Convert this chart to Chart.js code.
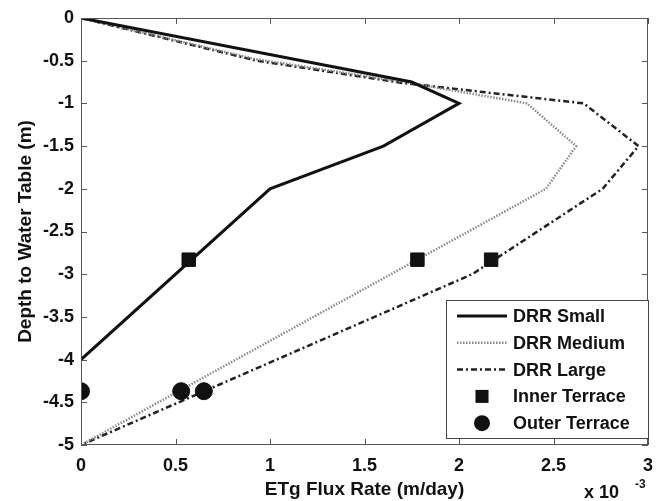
<!DOCTYPE html>
<html>
<head>
<meta charset="utf-8">
<script src="https://cdn.jsdelivr.net/npm/chart.js@4/dist/chart.umd.min.js"></script>
<style>
  html, body { margin: 0; padding: 0; background: #fff; }
  #box { width: 661px; height: 501px; }
</style>
</head>
<body>
<div id="box"><canvas id="grafico"></canvas></div>
<script>
// Dados (x em 10^-3 m/day, y = profundidade em m)
const smallX = [0, 1.75, 2.0, 1.6, 1.0, 0];
const smallY = [0, -0.75, -1.0, -1.5, -2.0, -4.0];
const mediumX = [0, 0.92, 1.74, 2.36, 2.62, 2.46, 0];
const mediumY = [0, -0.48, -0.76, -1.0, -1.5, -2.0, -5.0];
const largeX = [0, 0.93, 1.7, 2.66, 2.95, 2.76, 2.07, 0];
const largeY = [0, -0.5, -0.76, -1.0, -1.5, -2.0, -3.0, -5.0];
const innerX = [0.57, 1.78, 2.17];
const innerY = [-2.83, -2.83, -2.83];
const outerX = [0, 0.53, 0.65];
const outerY = [-4.37, -4.37, -4.37];
const xTicks = [0, 0.5, 1, 1.5, 2, 2.5, 3];
const yTicks = [0, -0.5, -1, -1.5, -2, -2.5, -3, -3.5, -4, -4.5, -5];

const fonte = '"Liberation Sans", Arial, sans-serif';

function pontos(xs, ys) {
    return xs.map((x, i) => ({ x: x, y: ys[i] }));
}

// moldura, ticks para dentro, legenda e "x 10^-3"
const extras = {
    id: 'extras',
    afterDraw(chart) {
        const ctx = chart.ctx;
        const a = chart.chartArea;
        const sx = chart.scales.x, sy = chart.scales.y;
        ctx.save();
        ctx.strokeStyle = '#555';
        ctx.lineWidth = 1;
        ctx.strokeRect(a.left + 0.5, a.top + 0.5, a.right - a.left - 1, a.bottom - a.top - 1);
        ctx.beginPath();
        xTicks.forEach(v => {
            const px = Math.round(sx.getPixelForValue(v)) + 0.5;
            ctx.moveTo(px, a.bottom); ctx.lineTo(px, a.bottom - 6);
            ctx.moveTo(px, a.top); ctx.lineTo(px, a.top + 6);
        });
        yTicks.forEach(v => {
            const py = Math.round(sy.getPixelForValue(v)) + 0.5;
            ctx.moveTo(a.left, py); ctx.lineTo(a.left + 6, py);
            ctx.moveTo(a.right, py); ctx.lineTo(a.right - 6, py);
        });
        ctx.stroke();

        // legenda
        const lx = 446, ly = 300, lw = a.right - 446, lh = 138;
        ctx.fillStyle = '#fff';
        ctx.fillRect(lx, ly, lw, lh);
        ctx.strokeStyle = '#444';
        ctx.strokeRect(lx + 0.5, ly + 0.5, lw, lh);
        const itens = chart.data.datasets;
        ctx.font = 'bold 18px ' + fonte;
        ctx.textBaseline = 'middle';
        itens.forEach((ds, i) => {
            const y = 316 + i * 26.8;
            ctx.save();
            if (ds.showLine) {
                ctx.strokeStyle = ds.borderColor;
                ctx.lineWidth = ds.borderWidth;
                ctx.setLineDash(ds.borderDash || []);
                ctx.beginPath();
                ctx.moveTo(457, y); ctx.lineTo(507, y);
                ctx.stroke();
            } else {
                ctx.fillStyle = '#111';
                if (ds.pointStyle === 'rect') {
                    ctx.fillRect(482 - 6.5, y - 6.5, 13, 13);
                } else {
                    ctx.beginPath();
                    ctx.arc(482, y, 8, 0, Math.PI * 2);
                    ctx.fill();
                }
            }
            ctx.restore();
            ctx.fillStyle = '#111';
            ctx.textAlign = 'left';
            ctx.fillText(ds.label, 513, y + 1);
        });

        // x 10^-3
        ctx.fillStyle = '#111';
        ctx.textAlign = 'left';
        ctx.textBaseline = 'alphabetic';
        ctx.font = 'bold 18px ' + fonte;
        ctx.fillText('x 10', 584, 498);
        ctx.font = 'bold 12px ' + fonte;
        ctx.fillText('-3', 635, 488);
        ctx.restore();
    }
};

const ctx = document.getElementById('grafico').getContext('2d');
window.myChart = new Chart(ctx, {
    type: 'scatter',
    data: {
        datasets: [
            {
                label: 'DRR Small',
                data: pontos(smallX, smallY),
                showLine: true,
                borderColor: '#111',
                borderWidth: 3,
                pointRadius: 0,
                order: 3
            },
            {
                label: 'DRR Medium',
                data: pontos(mediumX, mediumY),
                showLine: true,
                borderColor: '#8a8a8a',
                borderWidth: 2.5,
                borderDash: [1.5, 1.5],
                pointRadius: 0,
                order: 4
            },
            {
                label: 'DRR Large',
                data: pontos(largeX, largeY),
                showLine: true,
                borderColor: '#222',
                borderWidth: 2.5,
                borderDash: [6, 3, 2, 3],
                pointRadius: 0,
                order: 5
            },
            {
                label: 'Inner Terrace',
                data: pontos(innerX, innerY),
                showLine: false,
                pointStyle: 'rect',
                pointRadius: 9.5,
                backgroundColor: '#111',
                borderColor: '#111',
                order: 1
            },
            {
                label: 'Outer Terrace',
                data: pontos(outerX, outerY),
                showLine: false,
                pointStyle: 'circle',
                pointRadius: 8.5,
                backgroundColor: '#111',
                borderColor: '#111',
                order: 2
            }
        ]
    },
    options: {
        responsive: true,
        maintainAspectRatio: false,
        animation: false,
        layout: { padding: { left: 0, right: 13, top: 18, bottom: 0 } },
        plugins: {
            legend: { display: false },
            tooltip: { enabled: false }
        },
        scales: {
            x: {
                type: 'linear',
                min: 0,
                max: 3,
                afterBuildTicks: s => { s.ticks = xTicks.map(v => ({ value: v })); },
                afterFit: s => { s.height = 56; s.paddingLeft = 0; s.paddingRight = 0; },
                grid: { display: false, drawTicks: false, tickLength: 0 },
                border: { display: false },
                ticks: {
                    color: '#111',
                    padding: 10,
                    font: { family: fonte, size: 18, weight: 'bold' },
                    callback: v => String(v)
                },
                title: {
                    display: true,
                    text: 'ETg Flux Rate (m/day)',
                    color: '#111',
                    padding: { top: 2, bottom: 0 },
                    font: { family: fonte, size: 19, weight: 'bold' }
                }
            },
            y: {
                type: 'linear',
                min: -5,
                max: 0,
                afterBuildTicks: s => { s.ticks = yTicks.map(v => ({ value: v })); },
                afterFit: s => { s.width = 81; s.paddingTop = 0; s.paddingBottom = 0; },
                grid: { display: false, drawTicks: false, tickLength: 0 },
                border: { display: false },
                ticks: {
                    color: '#111',
                    padding: 7,
                    font: { family: fonte, size: 18, weight: 'bold' },
                    callback: v => String(v)
                },
                title: {
                    display: true,
                    text: 'Depth to Water Table (m)',
                    color: '#111',
                    padding: { top: 14, bottom: 0 },
                    font: { family: fonte, size: 19, weight: 'bold' }
                }
            }
        }
    },
    plugins: [extras]
});
</script>
</body>
</html>
